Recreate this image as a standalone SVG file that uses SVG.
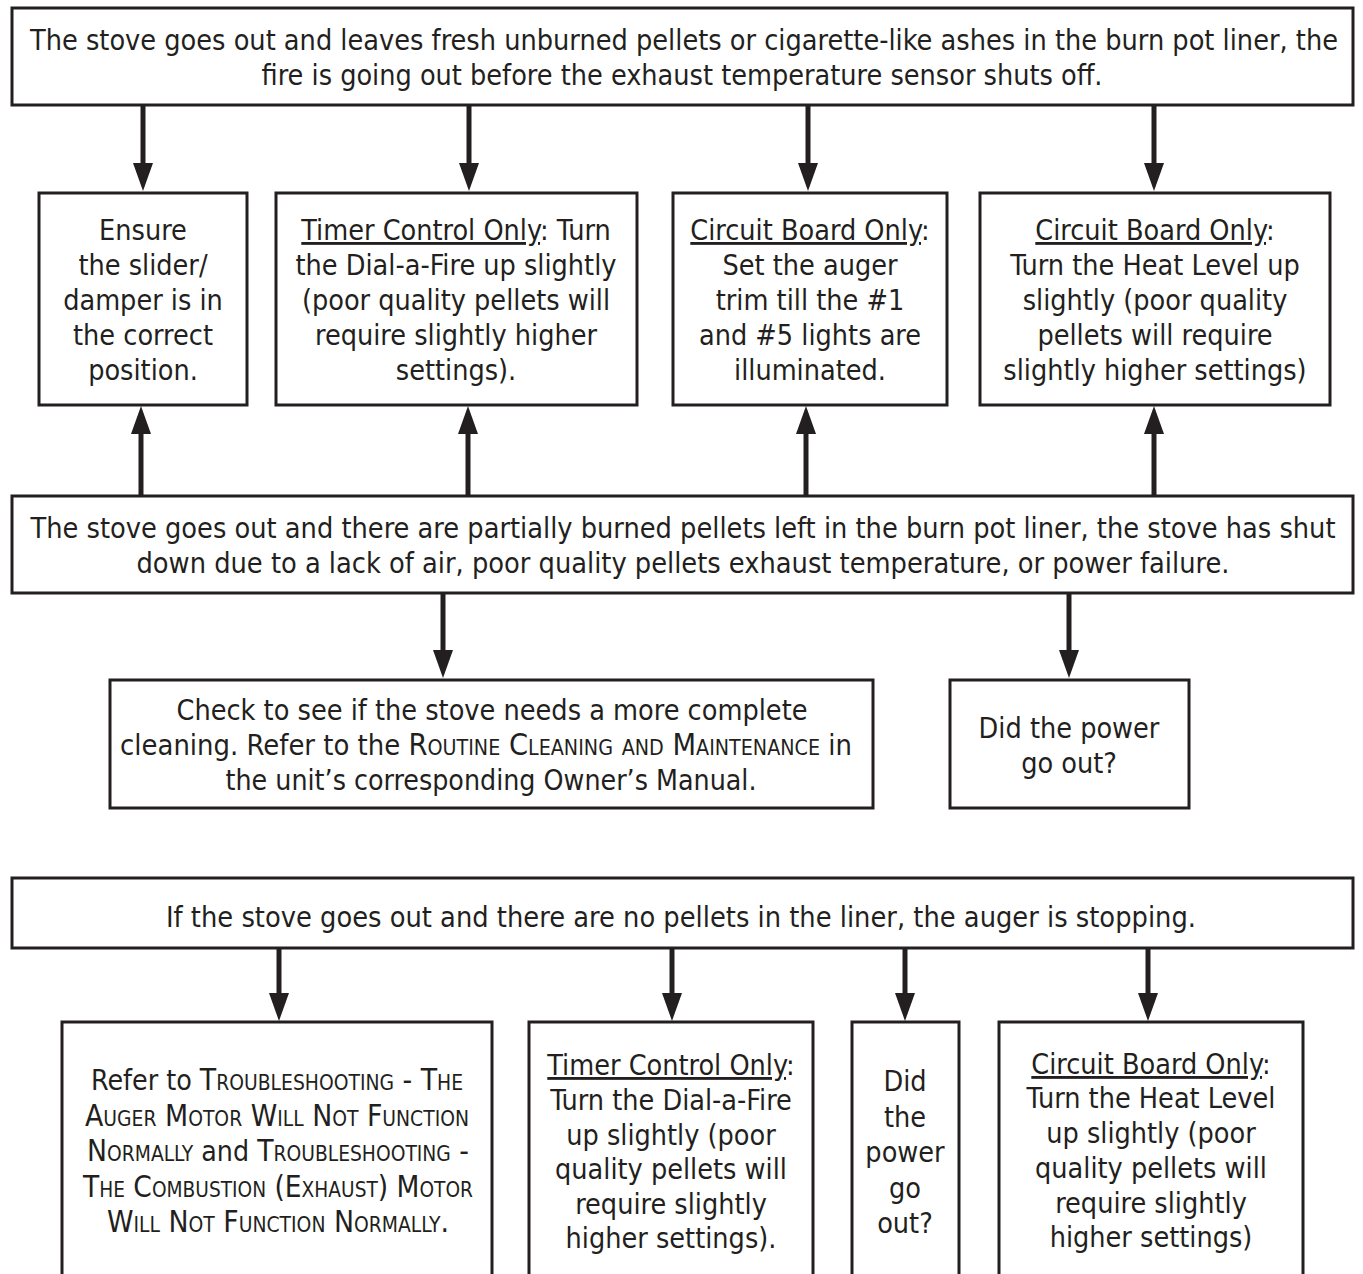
<svg xmlns="http://www.w3.org/2000/svg" width="1363" height="1274" viewBox="0 0 1363 1274">
<defs>
<marker id="ah" viewBox="0 0 28 20" markerWidth="28" markerHeight="20" refX="18" refY="10" orient="auto" markerUnits="userSpaceOnUse">
<path d="M0,0 L28,10 L0,20 z" fill="#231f20"/>
</marker>
<style>
.box{fill:#fff;stroke:#231f20;stroke-width:3}
.t{font-family:"DejaVu Sans Condensed","DejaVu Sans",sans-serif;font-stretch:condensed;font-size:28.5px;fill:#231f20;text-anchor:middle}
.u{text-decoration:underline}
.sc{font-variant:small-caps;font-size:30px}
.c{stroke:#231f20;stroke-width:5;fill:none;marker-end:url(#ah)}
</style>
</defs>
<g id="connectors">
<line class="c" x1="143" y1="106" x2="143" y2="181"/>
<line class="c" x1="469" y1="106" x2="469" y2="181"/>
<line class="c" x1="808" y1="106" x2="808" y2="181"/>
<line class="c" x1="1154" y1="106" x2="1154" y2="181"/>
<line class="c" x1="141" y1="495" x2="141" y2="416"/>
<line class="c" x1="468" y1="495" x2="468" y2="416"/>
<line class="c" x1="806" y1="495" x2="806" y2="416"/>
<line class="c" x1="1154" y1="495" x2="1154" y2="416"/>
<line class="c" x1="443" y1="594" x2="443" y2="668"/>
<line class="c" x1="1069" y1="594" x2="1069" y2="668"/>
<line class="c" x1="279" y1="949" x2="279" y2="1011"/>
<line class="c" x1="672" y1="949" x2="672" y2="1011"/>
<line class="c" x1="905" y1="949" x2="905" y2="1011"/>
<line class="c" x1="1148" y1="949" x2="1148" y2="1011"/>
</g>
<g id="top">
<rect class="box" x="12" y="8" width="1341" height="97"/>
<text class="t" x="684" y="50" textLength="1308" lengthAdjust="spacingAndGlyphs">The stove goes out and leaves fresh unburned pellets or cigarette-like ashes in the burn pot liner, the</text>
<text class="t" x="682" y="85" textLength="841" lengthAdjust="spacingAndGlyphs">fire is going out before the exhaust temperature sensor shuts off.</text>
</g>
<g id="ensure">
<rect class="box" x="39" y="193" width="208" height="212"/>
<text class="t" x="143" y="240">Ensure</text>
<text class="t" x="143" y="275">the slider/</text>
<text class="t" x="143" y="310">damper is in</text>
<text class="t" x="143" y="345">the correct</text>
<text class="t" x="143" y="380">position.</text>
</g>
<g id="timer1">
<rect class="box" x="276" y="193" width="361" height="212"/>
<text class="t" x="456" y="240"><tspan class="u">Timer Control Only</tspan>: Turn</text>
<text class="t" x="456" y="275">the Dial-a-Fire up slightly</text>
<text class="t" x="456" y="310">(poor quality pellets will</text>
<text class="t" x="456" y="345">require slightly higher</text>
<text class="t" x="456" y="380">settings).</text>
</g>
<g id="circuit1">
<rect class="box" x="673" y="193" width="274" height="212"/>
<text class="t" x="810" y="240"><tspan class="u">Circuit Board Only</tspan>:</text>
<text class="t" x="810" y="275">Set the auger</text>
<text class="t" x="810" y="310">trim till the #1</text>
<text class="t" x="810" y="345">and #5 lights are</text>
<text class="t" x="810" y="380">illuminated.</text>
</g>
<g id="circuit2">
<rect class="box" x="980" y="193" width="350" height="212"/>
<text class="t" x="1155" y="240"><tspan class="u">Circuit Board Only</tspan>:</text>
<text class="t" x="1155" y="275">Turn the Heat Level up</text>
<text class="t" x="1155" y="310">slightly (poor quality</text>
<text class="t" x="1155" y="345">pellets will require</text>
<text class="t" x="1155" y="380">slightly higher settings)</text>
</g>
<g id="middle">
<rect class="box" x="12" y="496" width="1341" height="97"/>
<text class="t" x="683" y="538" textLength="1305" lengthAdjust="spacingAndGlyphs">The stove goes out and there are partially burned pellets left in the burn pot liner, the stove has shut</text>
<text class="t" x="683" y="573" textLength="1093" lengthAdjust="spacingAndGlyphs">down due to a lack of air, poor quality pellets exhaust temperature, or power failure.</text>
</g>
<g id="cleaning">
<rect class="box" x="110" y="680" width="763" height="128"/>
<text class="t" x="492" y="720" textLength="631" lengthAdjust="spacingAndGlyphs">Check to see if the stove needs a more complete</text>
<text class="t" x="486" y="755" textLength="732" lengthAdjust="spacingAndGlyphs">cleaning. Refer to the <tspan class="sc">Routine Cleaning and Maintenance</tspan> in</text>
<text class="t" x="491" y="790" textLength="531" lengthAdjust="spacingAndGlyphs">the unit’s corresponding Owner’s Manual.</text>
</g>
<g id="power1">
<rect class="box" x="950" y="680" width="239" height="128"/>
<text class="t" x="1069" y="738">Did the power</text>
<text class="t" x="1069" y="773">go out?</text>
</g>
<g id="header3">
<rect class="box" x="12" y="878" width="1341" height="70"/>
<text class="t" x="681" y="927" textLength="1030" lengthAdjust="spacingAndGlyphs">If the stove goes out and there are no pellets in the liner, the auger is stopping.</text>
</g>
<g id="refer">
<rect class="box" x="62" y="1022" width="430" height="300"/>
<text class="t" x="277" y="1090" textLength="372" lengthAdjust="spacingAndGlyphs">Refer to <tspan class="sc">Troubleshooting - The</tspan></text>
<text class="t sc" x="277" y="1126" textLength="384" lengthAdjust="spacingAndGlyphs">Auger Motor Will Not Function</text>
<text class="t" x="278" y="1161" textLength="382" lengthAdjust="spacingAndGlyphs"><tspan class="sc">Normally</tspan> and <tspan class="sc">Troubleshooting -</tspan></text>
<text class="t sc" x="278" y="1197" textLength="390" lengthAdjust="spacingAndGlyphs">The Combustion (Exhaust) Motor</text>
<text class="t sc" x="278" y="1232" textLength="342" lengthAdjust="spacingAndGlyphs">Will Not Function Normally.</text>
</g>
<g id="timer2">
<rect class="box" x="529" y="1022" width="284" height="300"/>
<text class="t" x="671" y="1075"><tspan class="u">Timer Control Only</tspan>:</text>
<text class="t" x="671" y="1110">Turn the Dial-a-Fire</text>
<text class="t" x="671" y="1145">up slightly (poor</text>
<text class="t" x="671" y="1179">quality pellets will</text>
<text class="t" x="671" y="1214">require slightly</text>
<text class="t" x="671" y="1248">higher settings).</text>
</g>
<g id="power2">
<rect class="box" x="852" y="1022" width="107" height="300"/>
<text class="t" x="905" y="1091">Did</text>
<text class="t" x="905" y="1127">the</text>
<text class="t" x="905" y="1162">power</text>
<text class="t" x="905" y="1198">go</text>
<text class="t" x="905" y="1233">out?</text>
</g>
<g id="circuit3">
<rect class="box" x="999" y="1022" width="304" height="300"/>
<text class="t" x="1151" y="1074"><tspan class="u">Circuit Board Only</tspan>:</text>
<text class="t" x="1151" y="1108">Turn the Heat Level</text>
<text class="t" x="1151" y="1143">up slightly (poor</text>
<text class="t" x="1151" y="1178">quality pellets will</text>
<text class="t" x="1151" y="1213">require slightly</text>
<text class="t" x="1151" y="1247">higher settings)</text>
</g>
</svg>
